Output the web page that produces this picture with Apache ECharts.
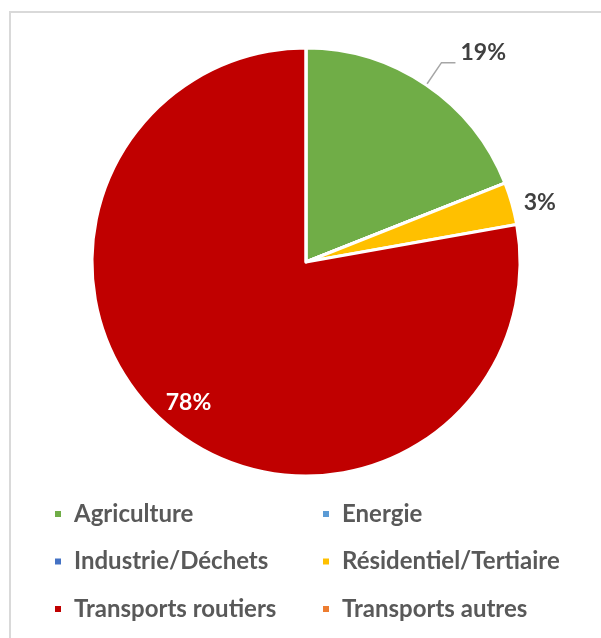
<!DOCTYPE html>
<html>
<head>
<meta charset="utf-8">
<script src="https://cdn.jsdelivr.net/npm/echarts@6/dist/echarts.min.js"></script>
<style>
  html, body { margin: 0; padding: 0; background: #fff; }
  #chart { width: 601px; height: 638px; }
</style>
</head>
<body>
<div id="chart"></div>
<script>
// secteurs (ordre de la légende Excel)
const sectors = ['Agriculture', 'Energie', 'Industrie/Déchets', 'Résidentiel/Tertiaire', 'Transports routiers', 'Transports autres']
const shares = [19.0, 0, 0, 3.2, 77.8, 0]
const colors = ['#70AD47', '#5B9BD5', '#4472C4', '#FFC000', '#C00000', '#ED7D31']

const legendLeft = ['Agriculture', 'Industrie/Déchets', 'Transports routiers']
const legendRight = ['Energie', 'Résidentiel/Tertiaire', 'Transports autres']

const FONT = 'Lato, "Open Sans", sans-serif'
const labelInk = '#404040'

const chart = echarts.init(document.getElementById('chart'), null, { renderer: 'canvas' })

// étiquettes extérieures : 19% avec ligne de rappel (texte au-dessus du trait), 3% sans
const outerLabel = {
  'Agriculture': {
    formatter: '{d}%\n ',
    labelLine: { show: true, length: 27, length2: 14 }
  },
  'Résidentiel/Tertiaire': {
    formatter: '{d}%',
    labelLine: { show: false, length: 5, length2: 2 }
  }
}

const mainData = sectors.map((name, i) => {
  const cfg = outerLabel[name]
  const item = { name, value: shares[i], itemStyle: { color: colors[i] } }
  if (cfg) {
    item.label = { show: true, formatter: cfg.formatter }
    item.labelLine = cfg.labelLine
  } else {
    item.label = { show: false }
    item.labelLine = { show: false }
  }
  return item
})

// anneau transparent : seulement pour placer le 78% à l'intérieur
const innerData = sectors.map((name, i) => ({
  name,
  value: shares[i],
  itemStyle: { color: 'transparent', borderWidth: 0 },
  label: { show: name === 'Transports routiers' }
}))

const legendBase = {
  orient: 'vertical',
  top: 500,
  padding: 0,
  itemGap: 19.5,
  itemWidth: 8,
  itemHeight: 8,
  icon: 'rect',
  selectedMode: false,
  textStyle: {
    color: '#595959',
    fontFamily: FONT,
    fontWeight: 'bold',
    fontSize: 24,
    lineHeight: 28,
    padding: [0, 0, 0, 7]
  }
}

chart.setOption({
  animation: false,
  backgroundColor: '#fff',
  color: colors,
  graphic: [{
    type: 'rect',
    shape: { x: 10, y: 12, width: 700, height: 700 },
    style: { fill: 'none', stroke: '#d9d9d9', lineWidth: 2 },
    silent: true
  }],
  legend: [
    Object.assign({}, legendBase, { left: 53, data: legendLeft }),
    Object.assign({}, legendBase, { left: 321, data: legendRight })
  ],
  series: [
    {
      name: 'parts',
      type: 'pie',
      center: [306, 262],
      radius: 214,
      startAngle: 90,
      clockwise: true,
      avoidLabelOverlap: false,
      percentPrecision: 0,
      itemStyle: { borderColor: '#fff', borderWidth: 3 },
      label: {
        position: 'outside',
        color: labelInk,
        fontFamily: FONT,
        fontWeight: 'bold',
        fontSize: 23,
        lineHeight: 20
      },
      labelLine: {
        lineStyle: { color: '#a6a6a6', width: 1.5 }
      },
      emphasis: { disabled: true },
      data: mainData
    },
    {
      name: 'etiquette',
      type: 'pie',
      center: [306, 262],
      radius: [146, 214],
      startAngle: 90,
      clockwise: true,
      silent: true,
      percentPrecision: 0,
      avoidLabelOverlap: false,
      label: {
        position: 'inside',
        formatter: '{d}%',
        color: '#fff',
        fontFamily: FONT,
        fontWeight: 'bold',
        fontSize: 23
      },
      labelLine: { show: false },
      emphasis: { disabled: true },
      data: innerData
    }
  ]
})
</script>
</body>
</html>
